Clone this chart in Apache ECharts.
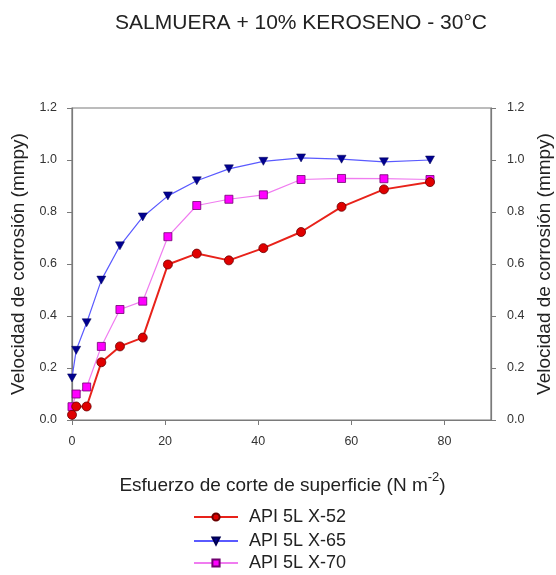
<!DOCTYPE html>
<html>
<head>
<meta charset="utf-8">
<script src="https://cdn.jsdelivr.net/npm/echarts@6/dist/echarts.min.js"></script>
<style>html,body{margin:0;padding:0;background:#fff}#c{width:556px;height:575px}</style>
</head>
<body>
<div id="c"></div>
<script>
const titleText = 'SALMUERA + 10% KEROSENO - 30°C';
const xTicks = [0, 20, 40, 60, 80];
const yTicks = ['0.0', '0.2', '0.4', '0.6', '0.8', '1.0', '1.2'];
const shear = [0, 0.9, 3.15, 6.3, 10.3, 15.2, 20.6, 26.8, 33.7, 41.1, 49.2, 57.9, 67.0, 76.9];
const x52 = [0.020, 0.052, 0.052, 0.222, 0.283, 0.317, 0.598, 0.640, 0.614, 0.661, 0.723, 0.820, 0.887, 0.915];
const x65 = [0.162, 0.268, 0.374, 0.538, 0.670, 0.781, 0.862, 0.920, 0.966, 0.995, 1.008, 1.003, 0.993, 1.000];
const x70 = [0.051, 0.100, 0.127, 0.283, 0.425, 0.457, 0.705, 0.825, 0.849, 0.866, 0.925, 0.929, 0.928, 0.925];
const names = ['API 5L X-52', 'API 5L X-65', 'API 5L X-70'];

const pair = v => shear.map((s, i) => [s, v[i]]);
const axisColor = '#7a7a7a';
const font = 'Arial, "Liberation Sans", sans-serif';

const yAxisCommon = {
  type: 'value', min: 0, max: 1.2, interval: 0.2,
  axisLine: { show: true, lineStyle: { color: axisColor, width: 1.2 } },
  axisTick: { show: true, length: 5, lineStyle: { color: axisColor } },
  splitLine: { show: false },
  axisLabel: { color: '#333', fontSize: 12.5, fontFamily: font, margin: 15, formatter: v => yTicks[Math.round(v / 0.2)] },
  name: 'Velocidad de corrosión (mmpy)',
  nameLocation: 'middle',
  nameTextStyle: { color: '#222', fontSize: 19, fontFamily: font },
  nameGap: 34
};

const legendBase = (name, top) => ({
  orient: 'vertical', left: 193, top: top, padding: 0, itemWidth: 44, itemHeight: 9, itemGap: 0,
  textStyle: { color: '#222', fontSize: 18, fontFamily: font, padding: [0, 0, 0, 6] },
  data: [name]
});

const chart = echarts.init(document.getElementById('c'), null, { renderer: 'canvas' });
chart.setOption({
  animation: false,
  backgroundColor: '#fff',
  title: {
    text: titleText, left: 296, top: 8, textAlign: 'center',
    textStyle: { color: '#222', fontSize: 21, fontWeight: 'normal', fontFamily: font }
  },
  grid: { left: 72, right: 65, top: 108, bottom: 155, outerBoundsMode: 'none', containLabel: false,
          show: true, borderColor: axisColor, borderWidth: 1.2 },
  xAxis: {
    type: 'value', min: 0, max: 90, interval: 20,
    axisLine: { show: true, onZero: false, lineStyle: { color: axisColor, width: 1.2 } },
    axisTick: { show: true, length: 5, customValues: xTicks, lineStyle: { color: axisColor } },
    splitLine: { show: false },
    axisLabel: {
      color: '#333', fontSize: 12.5, fontFamily: font, margin: 15,
      customValues: xTicks, formatter: v => String(v)
    },
    name: '{a|Esfuerzo de corte de superficie (N m}{s|-2}{a|)}',
    nameLocation: 'middle', nameGap: 51,
    nameTextStyle: {
      padding: [0, 0, 0, 2],
      rich: {
        a: { color: '#222', fontSize: 19, fontFamily: font, lineHeight: 24, verticalAlign: 'bottom' },
        s: { color: '#222', fontSize: 13, fontFamily: font, lineHeight: 24, verticalAlign: 'top', padding: [0, 0, 9, 0] }
      }
    }
  },
  yAxis: [
    Object.assign({}, yAxisCommon, { position: 'left' }),
    Object.assign({}, yAxisCommon, { position: 'right', nameGap: 42,
      axisLabel: Object.assign({}, yAxisCommon.axisLabel, { margin: 16 }) })
  ],
  legend: [
    legendBase(names[0], 508),
    legendBase(names[1], 532),
    legendBase(names[2], 554)
  ],
  series: [
    {
      name: names[0], type: 'line', data: pair(x52), yAxisIndex: 0,
      symbol: 'circle', symbolSize: 9,
      lineStyle: { color: '#e8221a', width: 2 },
      itemStyle: { color: '#e00000', borderColor: '#6a0000', borderWidth: 0.8 }, z: 3
    },
    {
      name: names[1], type: 'line', data: pair(x65), yAxisIndex: 0,
      symbol: 'path://M0,0 L10,0 L5,9 Z', symbolSize: [9, 8],
      lineStyle: { color: '#5a5aff', width: 1.2 },
      itemStyle: { color: '#000090', borderColor: '#000050', borderWidth: 0.5 }, z: 2
    },
    {
      name: names[2], type: 'line', data: pair(x70), yAxisIndex: 0,
      symbol: 'rect', symbolSize: 8,
      lineStyle: { color: '#f07cf0', width: 1.2 },
      itemStyle: { color: '#ff00ff', borderColor: '#700070', borderWidth: 0.8 }, z: 2
    }
  ]
});
</script>
</body>
</html>
